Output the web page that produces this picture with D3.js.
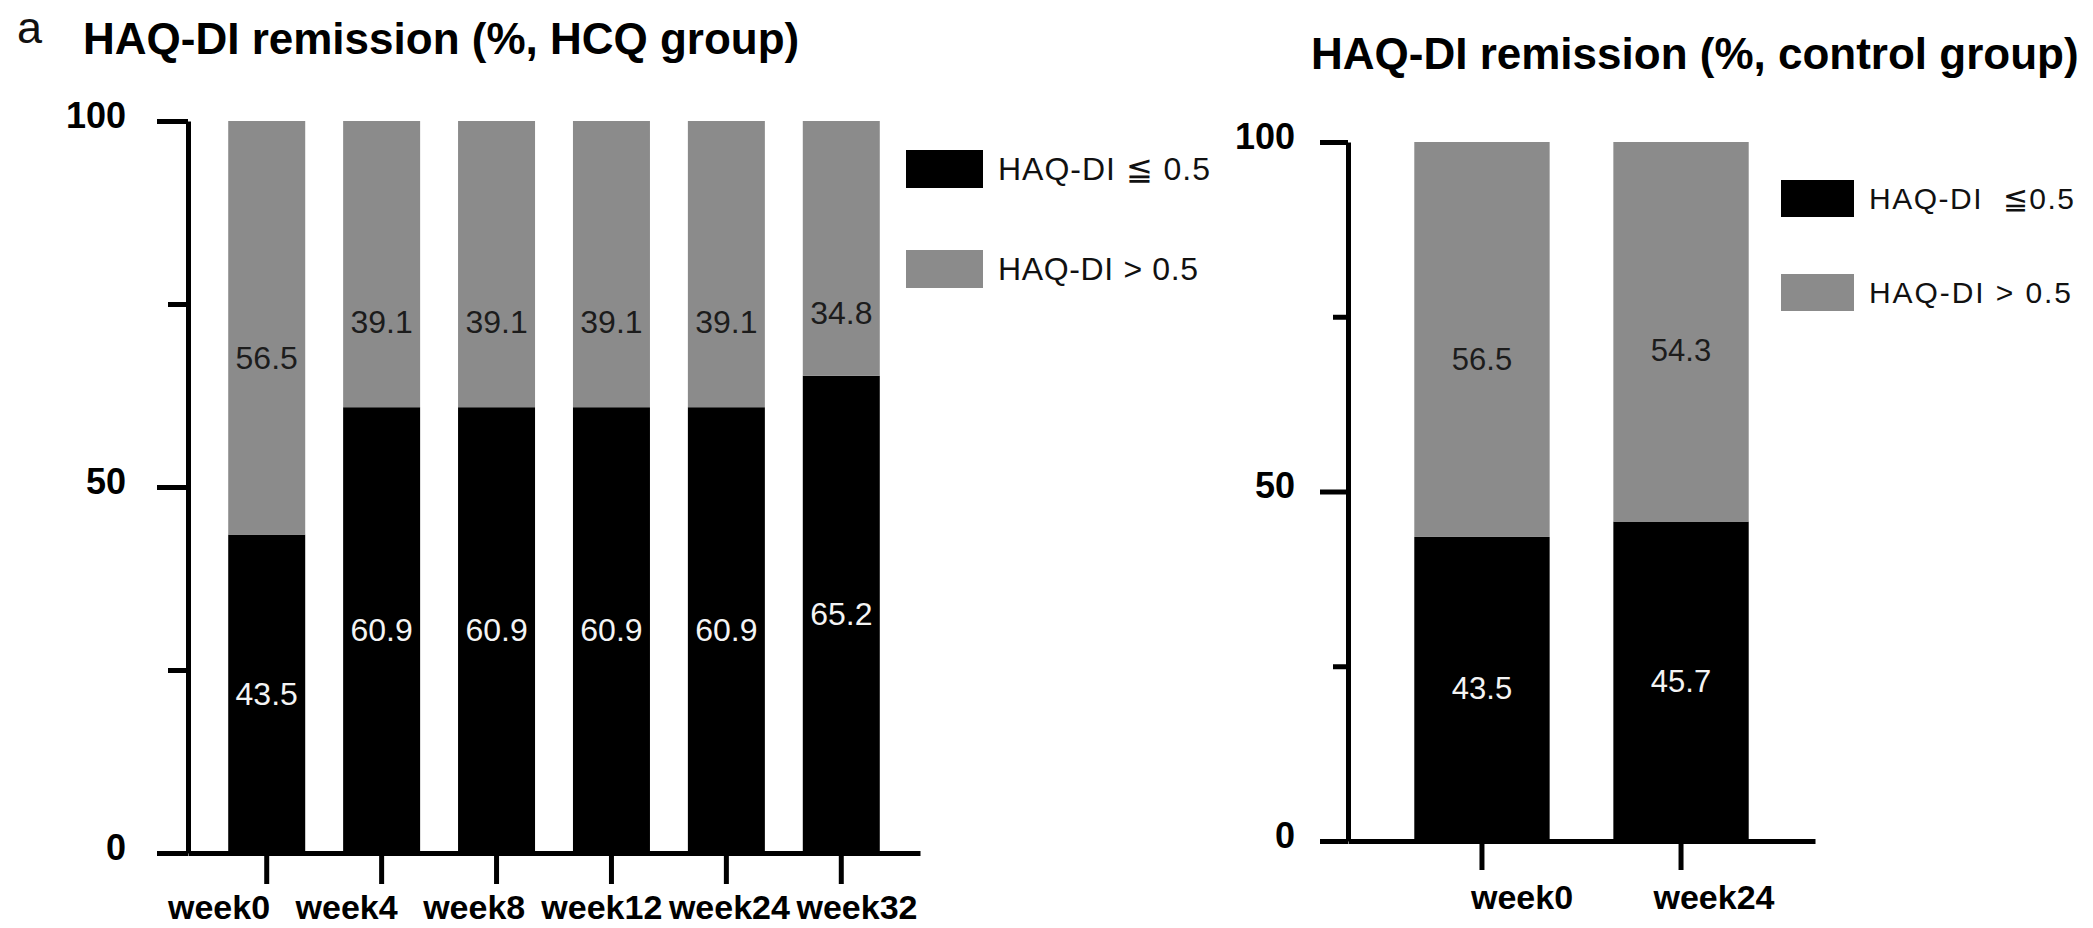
<!DOCTYPE html>
<html>
<head>
<meta charset="utf-8">
<script src="https://cdn.jsdelivr.net/npm/d3@7"></script>
<style>
  html, body { margin: 0; padding: 0; background: #ffffff; }
  svg { display: block; }
  text { font-family: "Liberation Sans", Arial, Helvetica, sans-serif; }
</style>
</head>
<body>
<script>
// HAQ-DI remission, stacked percentages per visit
const hcqWeeks = ["week0", "week4", "week8", "week12", "week24", "week32"];
const hcqRemission = [43.5, 60.9, 60.9, 60.9, 60.9, 65.2];     // HAQ-DI ≦ 0.5
const hcqNonRemission = [56.5, 39.1, 39.1, 39.1, 39.1, 34.8];  // HAQ-DI > 0.5

const ctrlWeeks = ["week0", "week24"];
const ctrlRemission = [43.5, 45.7];
const ctrlNonRemission = [56.5, 54.3];

const majorTicks = [0, 50, 100];
const minorTicks = [25, 75];

const hcqTitle = "HAQ-DI remission (%, HCQ group)";
const ctrlTitle = "HAQ-DI remission (%, control group)";
const hcqLegend = ["HAQ-DI \u2266 0.5", "HAQ-DI > 0.5"];
const ctrlLegend = ["HAQ-DI  \u22660.5", "HAQ-DI > 0.5"];

const colors = { low: "#000000", high: "#8b8b8b" };
const labelColors = { low: "#f4f4f4", high: "#1c1c1c" };

const W = 2093, H = 928;
const svg = d3.select("body").append("svg").attr("width", W).attr("height", H);
svg.append("rect").attr("width", W).attr("height", H).attr("fill", "#fff");

// panel letter
svg.append("text").attr("x", 17).attr("y", 43)
  .attr("font-size", 45).attr("fill", "#111").text("a");

function drawPanel(p) {
  const g = svg.append("g");
  const x = d3.scaleBand().domain(p.weeks)
    .range([p.axisX, p.xEnd]).paddingInner(p.padIn).paddingOuter(p.padOut);
  const y = d3.scaleLinear().domain([0, 100]).range([p.yBottom, p.yTop]);

  const rows = p.weeks.map((w, i) => ({ week: w, low: p.low[i], high: p.high[i] }));
  const series = d3.stack().keys(["low", "high"])(rows);

  // stacked bars
  g.selectAll("g.layer").data(series).join("g")
    .attr("class", "layer").attr("fill", d => colors[d.key])
    .selectAll("rect").data(d => d).join("rect")
    .attr("x", d => x(d.data.week))
    .attr("width", x.bandwidth())
    .attr("y", d => y(d[1]))
    .attr("height", d => y(d[0]) - y(d[1]));

  // value labels inside segments
  series.forEach(s => {
    g.append("g").selectAll("text").data(s).join("text")
      .attr("x", d => x(d.data.week) + x.bandwidth() / 2)
      .attr("y", d => y(p.labelAt[s.key](d.data.low, d.data.high)))
      .attr("text-anchor", "middle")
      .attr("dominant-baseline", "central")
      .attr("font-size", p.valueFont)
      .attr("fill", labelColors[s.key])
      .text(d => d3.format(".1f")(d.data[s.key]));
  });

  // y axis: major ticks with labels, minor ticks without
  const yMajor = d3.axisLeft(y).tickValues(majorTicks)
    .tickSize(p.majorTick).tickSizeOuter(0).tickPadding(p.yLabelPad)
    .tickFormat(d3.format("d"));
  const yMinor = d3.axisLeft(y).tickValues(minorTicks)
    .tickSize(p.minorTick).tickSizeOuter(0).tickFormat("");
  const ya = g.append("g").attr("transform", `translate(${p.axisX},0)`).call(yMajor);
  const yb = g.append("g").attr("transform", `translate(${p.axisX},0)`).call(yMinor);
  yb.select(".domain").remove();
  [ya, yb].forEach(a => {
    a.selectAll("line, path").attr("stroke", "#000").attr("stroke-width", 5);
  });
  ya.selectAll("text")
    .attr("font-size", 36).attr("font-weight", "bold").attr("fill", "#000")
    .attr("font-family", "'Liberation Sans', Arial, sans-serif")
    .attr("dy", "0.18em");

  // x axis: baseline and centred ticks
  const xAxis = d3.axisBottom(x).tickSize(p.xTick).tickSizeOuter(0).tickFormat("");
  const xa = g.append("g").attr("transform", `translate(0,${p.yBottom})`).call(xAxis);
  xa.selectAll("line, path").attr("stroke", "#000").attr("stroke-width", 5);

  // category labels
  const xl = d3.scalePoint().domain(p.weeks).range(p.labelRange);
  g.append("g").selectAll("text").data(p.weeks).join("text")
    .attr("x", d => xl(d)).attr("y", p.labelBaseline)
    .attr("text-anchor", "middle")
    .attr("font-size", 34).attr("font-weight", "bold").attr("fill", "#000")
    .text(d => d);

  // title
  g.append("text").attr("x", p.titleX).attr("y", p.titleY)
    .attr("font-size", p.titleFont).attr("font-weight", "bold").attr("fill", "#000")
    .text(p.title);

  // legend
  const keys = ["low", "high"];
  const lg = g.append("g");
  keys.forEach((k, i) => {
    lg.append("rect").attr("x", p.legX).attr("y", p.legY[i])
      .attr("width", p.legW).attr("height", p.legH).attr("fill", colors[k]);
    lg.append("text").attr("x", p.legTextX).attr("y", p.legY[i] + p.legH / 2)
      .attr("dominant-baseline", "central")
      .attr("font-size", p.legFont).attr("fill", "#111")
      .attr("textLength", p.legLen[i]).attr("lengthAdjust", "spacing")
      .style("white-space", "pre")
      .text(p.legend[i]);
  });
}

drawPanel({
  weeks: hcqWeeks, low: hcqRemission, high: hcqNonRemission,
  axisX: 188, xEnd: 920, yTop: 121, yBottom: 853,
  padIn: 0.33, padOut: 0.35,
  majorTick: 31, minorTick: 20, xTick: 31, yLabelPad: 31,
  valueFont: 32,
  labelAt: {
    low: (lo) => lo / 2,
    high: (lo, hi) => lo + hi - 16.5 - 0.28 * hi
  },
  labelRange: [219, 857], labelBaseline: 919,
  title: hcqTitle, titleX: 83, titleY: 54, titleFont: 44,
  legend: hcqLegend, legX: 906, legY: [150, 250], legW: 77, legH: 38,
  legTextX: 998, legFont: 32, legLen: [212, 200]
});

drawPanel({
  weeks: ctrlWeeks, low: ctrlRemission, high: ctrlNonRemission,
  axisX: 1348, xEnd: 1815, yTop: 142, yBottom: 841,
  padIn: 0.32, padOut: 0.333,
  majorTick: 28, minorTick: 15, xTick: 29, yLabelPad: 25,
  valueFont: 31,
  labelAt: {
    low: (lo) => lo / 2,
    high: (lo, hi) => lo + 0.45 * hi
  },
  labelRange: [1522, 1714], labelBaseline: 909,
  title: ctrlTitle, titleX: 1311, titleY: 69, titleFont: 44,
  legend: ctrlLegend, legX: 1781, legY: [180, 274], legW: 73, legH: 37,
  legTextX: 1869, legFont: 30, legLen: [205, 202]
});
</script>
</body>
</html>
